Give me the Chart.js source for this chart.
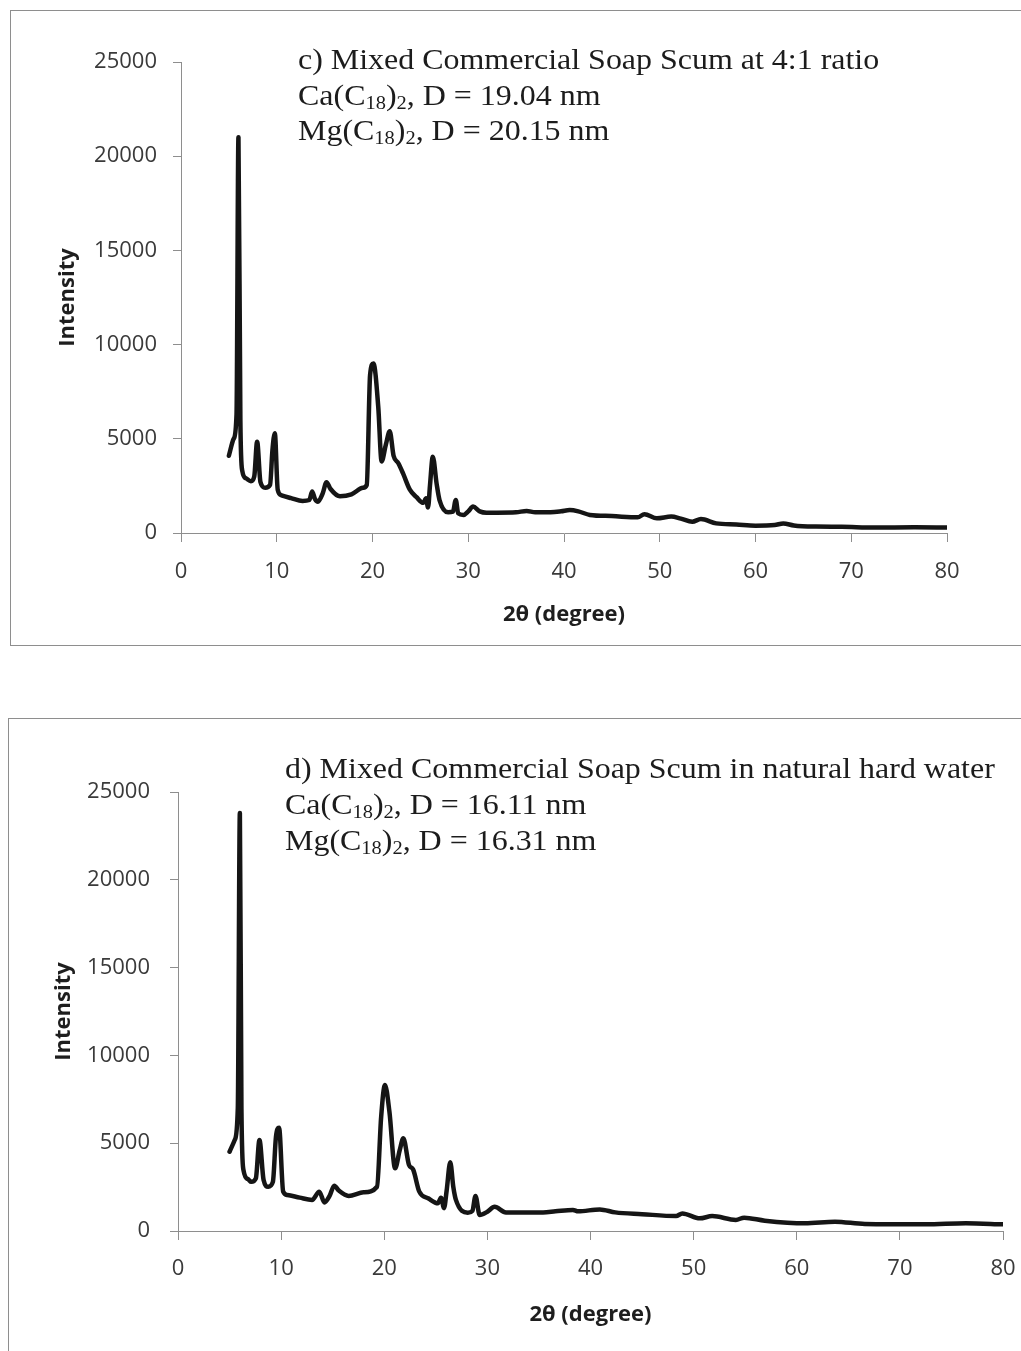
<!DOCTYPE html>
<html>
<head>
<meta charset="utf-8">
<title>XRD patterns - mixed commercial soap scum</title>
<script src="https://cdn.jsdelivr.net/npm/chart.js@4.4.1/dist/chart.umd.min.js"></script>
<style>
    body {
        margin: 0;
        background: #ffffff;
        width: 1021px;
        height: 1351px;
        overflow: hidden;
        position: relative;
    }
    .frame {
        position: absolute;
        border: 1px solid #8e8e8e;
    }
    #frameC { left: 10px; top: 10px; width: 1040px; height: 634px; }
    #frameD { left: 8px; top: 718px; width: 1040px; height: 700px; border-bottom: none; }
    .frame canvas { position: absolute; left: 0; top: 0; }
    .note {
        position: absolute;
        font-family: "Liberation Serif", "Times New Roman", serif;
        font-size: 30px;
        line-height: 36px;
        color: #1c1c1c;
        white-space: nowrap;
        transform: scaleX(1.065);
        transform-origin: left top;
    }
    .note sub {
        font-size: 0.64em;
        vertical-align: -0.22em;
        line-height: 0;
    }
    #noteC { left: 298px; top: 41px; line-height: 35.5px; }
    #noteD { left: 285px; top: 750px; }
</style>
</head>
<body>

<div class="frame" id="frameC"><canvas id="chartC"></canvas></div>
<div class="frame" id="frameD"><canvas id="chartD"></canvas></div>

<div class="note" id="noteC">
    c) Mixed Commercial Soap Scum at 4:1 ratio<br>
    Ca(C<sub>18</sub>)<sub>2</sub>, D = 19.04 nm<br>
    Mg(C<sub>18</sub>)<sub>2</sub>, D = 20.15 nm
</div>
<div class="note" id="noteD">
    d) Mixed Commercial Soap Scum in natural hard water<br>
    Ca(C<sub>18</sub>)<sub>2</sub>, D = 16.11 nm<br>
    Mg(C<sub>18</sub>)<sub>2</sub>, D = 16.31 nm
</div>

<script>
// Axis ticks shared by both patterns
const xTicks = [0, 10, 20, 30, 40, 50, 60, 70, 80];
const yTicks = [0, 5000, 10000, 15000, 20000, 25000];

// c) soap scum at 4:1 ratio - 2theta (degree) and intensity
const twoThetaC = [5.0, 5.5, 5.8, 6.0, 6.2, 6.4, 6.8, 7.3, 7.65, 7.95, 8.3, 8.8, 9.3, 9.55, 9.8, 10.1,
    10.5, 11.5, 12.7, 13.4, 13.7, 14.0, 14.3, 14.8, 15.2, 15.6, 16.6, 17.8, 19.0, 19.4, 19.75, 20.1,
    20.6, 20.95, 21.4, 21.8, 22.2, 22.7, 23.2, 23.9, 24.6, 25.3, 25.6, 25.8, 26.0, 26.3, 26.7, 27.0,
    27.9, 28.4, 28.7, 28.95, 29.5, 30.0, 30.5, 31.2, 31.9, 33.0, 35.0, 36.1, 37.0, 38.6, 39.7, 40.6,
    41.5, 42.7, 45.0, 47.7, 48.4, 49.7, 51.2, 52.2, 53.4, 54.3, 55.9, 58.0, 60.0, 62.0, 62.9, 64.0,
    66.3, 69.0, 72.4, 76.6, 80.0];
const intensityC = [4100, 5000, 6300, 21000, 6000, 3300, 2900, 2750, 3000, 4850, 2700, 2400, 2550, 4400, 5300, 2300,
    2000, 1850, 1700, 1750, 2200, 1800, 1660, 2100, 2700, 2350, 1950, 2050, 2400, 2550, 8400, 9000,
    6700, 3800, 4700, 5400, 4100, 3700, 3150, 2300, 1900, 1600, 1850, 1350, 2500, 4050, 2600, 1750,
    1100, 1130, 1750, 1040, 960, 1150, 1400, 1150, 1080, 1080, 1100, 1170, 1100, 1100, 1150, 1220,
    1150, 960, 900, 830, 1000, 780, 870, 760, 600, 740, 510, 450, 390, 420, 510, 400,
    340, 330, 290, 300, 290];

// d) soap scum in natural hard water
const twoThetaD = [5.0, 5.5, 5.8, 6.0, 6.15, 6.35, 6.8, 7.1, 7.55, 7.9, 8.3, 8.75, 9.2, 9.5, 9.8, 10.2,
    10.6, 11.8, 13.0, 13.7, 14.2, 14.7, 15.15, 15.6, 16.55, 18.0, 19.3, 19.7, 20.07, 20.5, 21.05, 21.5,
    21.85, 22.4, 22.8, 23.4, 24.3, 25.2, 25.5, 25.8, 26.05, 26.4, 26.7, 26.95, 28.1, 28.55, 28.85, 29.25,
    30.0, 30.7, 31.8, 33.0, 35.4, 36.6, 38.3, 38.8, 40.9, 42.4, 45.0, 48.3, 48.9, 50.6, 51.8, 54.1,
    54.9, 56.9, 60.8, 63.7, 66.6, 72.5, 76.4, 80.0];
const intensityD = [4515, 5180, 7000, 23800, 7000, 3470, 2950, 2800, 3000, 5180, 2900, 2520, 2800, 5370, 5880, 2240,
    2050, 1900, 1770, 2240, 1630, 2000, 2580, 2300, 2000, 2200, 2520, 6500, 8320, 6800, 3570, 4600,
    5280, 3760, 3500, 2240, 1850, 1580, 1900, 1300, 2300, 3910, 2500, 1770, 1040, 1150, 2000, 910,
    1100, 1380, 1060, 1060, 1060, 1120, 1200, 1120, 1230, 1060, 960, 850, 1000, 720, 850, 630,
    760, 590, 440, 530, 400, 380, 440, 380];

const axisGray = '#8e8e8e';
const tickFont = { family: '"Open Sans", "Liberation Sans", sans-serif', size: 22 };
const titleFont = { family: '"Open Sans", "Liberation Sans", sans-serif', size: 22, weight: 'bold' };

// Build one diffraction pattern chart; box holds canvas size and plot-area geometry
function drawPattern(canvasId, xs, ys, box) {
    const canvas = document.getElementById(canvasId);
    canvas.width = box.width;
    canvas.height = box.height;
    canvas.style.width = box.width + 'px';
    canvas.style.height = box.height + 'px';

    const points = xs.map((x, i) => ({ x: x, y: ys[i] }));

    return new Chart(canvas.getContext('2d'), {
        type: 'line',
        data: {
            datasets: [{
                data: points,
                borderColor: '#151515',
                borderWidth: 4.5,
                pointRadius: 0,
                fill: false,
                cubicInterpolationMode: 'monotone',
                borderJoinStyle: 'round',
                borderCapStyle: 'round'
            }]
        },
        options: {
            responsive: false,
            animation: false,
            layout: {
                padding: { left: 0, top: box.top, right: box.right, bottom: 0 }
            },
            plugins: {
                legend: { display: false },
                tooltip: { enabled: false }
            },
            scales: {
                x: {
                    type: 'linear',
                    min: 0,
                    max: 80,
                    afterBuildTicks: s => { s.ticks = xTicks.map(v => ({ value: v })); },
                    afterFit: s => { s.height = box.xHeight; },
                    ticks: {
                        font: tickFont,
                        color: '#3a3a3a',
                        padding: box.xTickPad,
                        maxRotation: 0,
                        autoSkip: false
                    },
                    grid: { drawOnChartArea: false, tickLength: 9, color: axisGray, lineWidth: 1 },
                    border: { color: axisGray, width: 1 },
                    title: {
                        display: true,
                        text: '2θ (degree)',
                        font: titleFont,
                        color: '#1e1e1e',
                        padding: { top: 0, bottom: box.xTitlePad }
                    }
                },
                y: {
                    min: 0,
                    max: 25000,
                    afterBuildTicks: s => { s.ticks = yTicks.map(v => ({ value: v })); },
                    afterFit: s => { s.width = box.yWidth; },
                    ticks: {
                        font: tickFont,
                        color: '#3a3a3a',
                        padding: box.yTickPad,
                        callback: v => String(v)
                    },
                    grid: { drawOnChartArea: false, tickLength: 8, color: axisGray, lineWidth: 1 },
                    border: { color: axisGray, width: 1 },
                    title: {
                        display: true,
                        text: 'Intensity',
                        font: titleFont,
                        color: '#1e1e1e',
                        padding: { top: box.yTitlePad, bottom: 0 }
                    }
                }
            }
        }
    });
}

drawPattern('chartC', twoThetaC, intensityC, {
    width: 1010, height: 633,
    top: 51, right: 74, yWidth: 170, xHeight: 111,
    xTickPad: 17, yTickPad: 16, xTitlePad: 16, yTitlePad: 44
});

drawPattern('chartD', twoThetaD, intensityD, {
    width: 1030, height: 632,
    top: 73, right: 36, yWidth: 169, xHeight: 120,
    xTickPad: 16, yTickPad: 20, xTitlePad: 23, yTitlePad: 42
});
</script>
</body>
</html>
